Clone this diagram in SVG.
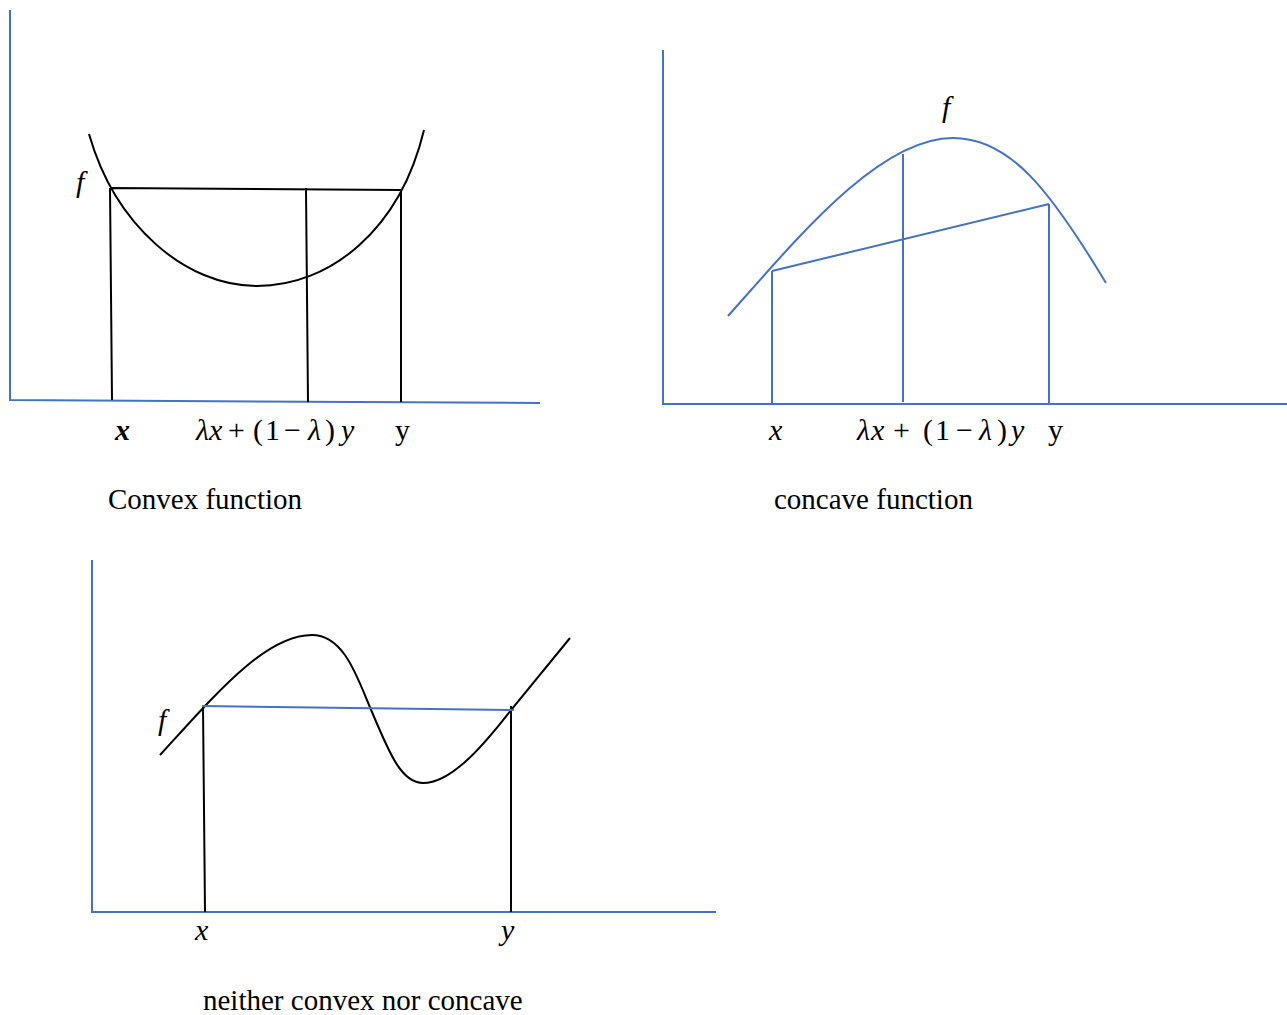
<svg xmlns="http://www.w3.org/2000/svg" width="1287" height="1015" viewBox="0 0 1287 1015">
<style>
.axis{stroke:#4472C4;stroke-width:2;fill:none}
.blk{stroke:#000;stroke-width:2;fill:none}
.blu{stroke:#4472C4;stroke-width:2;fill:none}
text{font-family:'Liberation Serif','DejaVu Serif',serif;fill:#000}
.cap{font-size:29px}
.m{font-size:30px;font-style:italic}
.u{font-size:30px;font-style:normal}
</style>
<rect width="1287" height="1015" fill="#fff"/>
<g id="convex">
<path class="axis" d="M10,10 V400 L540,403"/>
<path class="blk" d="M89,134 C115,225 185,286 257,286 C330,286 400,230 424,130"/>
<path class="blk" d="M110,188 L401,190 M110,188 L112,400 M306,188 L308,402 M401,190 L401,402"/>
<text class="m" x="76" y="192">f</text>
<text class="m" x="115" y="440" font-weight="bold">x</text>
<text class="m" y="440"><tspan x="196 209">λx</tspan><tspan class="u" x="228 253 265 284">+(1−</tspan><tspan x="308">λ</tspan><tspan class="u" x="325">)</tspan><tspan x="341">y</tspan></text>
<text class="u" x="395" y="440">y</text>
<text class="cap" x="108" y="509">Convex function</text>
</g>
<g id="concave">
<path class="axis" d="M663,50 V404 H1287"/>
<path class="blu" d="M728,316 C800,235 880,138 953,138 C1010,138 1050,190 1106,283"/>
<path class="blu" d="M772,271 L1049,204 M772,271 V404 M903,154 V402 M1049,204 V404"/>
<text class="m" x="942" y="117">f</text>
<text class="m" x="769" y="440">x</text>
<text class="m" y="440"><tspan x="857 871">λx</tspan><tspan class="u" x="893 923 935 956">+(1−</tspan><tspan x="979">λ</tspan><tspan class="u" x="997">)</tspan><tspan x="1011">y</tspan></text>
<text class="u" x="1048" y="440">y</text>
<text class="cap" x="774" y="509">concave function</text>
</g>
<g id="neither">
<path class="axis" d="M92,560 V912 H716"/>
<path class="blk" d="M160,755 C215,695 265,635 312,635 C345,635 358,680 372,712 C390,755 402,783 423,783 C450,783 480,750 511,710 L570,638"/>
<path class="blk" d="M203,706 L205,912 M511,706 V912"/>
<path class="blu" d="M202,706 L514,710"/>
<text class="m" x="158" y="730">f</text>
<text class="m" x="195" y="940">x</text>
<text class="m" x="501" y="940">y</text>
<text class="cap" x="203" y="1010">neither convex nor concave</text>
</g>
</svg>
